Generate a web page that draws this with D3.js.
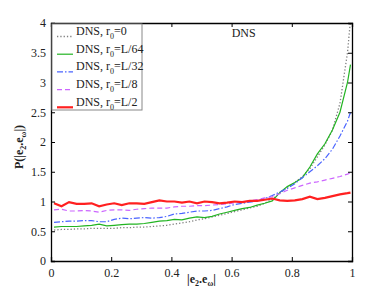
<!DOCTYPE html>
<html>
<head>
<meta charset="utf-8">
<script src="https://cdn.jsdelivr.net/npm/d3@7"></script>
<style>
body{margin:0;background:#fff;}
svg text{font-family:"Liberation Serif","Times New Roman",serif;}
</style>
</head>
<body>
<script>
// data
const xs=[0.01,0.035,0.06,0.085,0.11,0.135,0.16,0.185,0.21,0.235,0.26,0.285,0.31,0.335,0.36,0.385,0.41,0.435,0.46,0.485,0.51,0.535,0.56,0.585,0.61,0.635,0.66,0.685,0.71,0.735,0.76,0.785,0.81,0.835,0.86,0.885,0.91,0.935,0.96,0.985,0.995];
const r0_0=[0.52,0.53,0.53,0.54,0.54,0.55,0.55,0.55,0.55,0.56,0.56,0.57,0.57,0.58,0.59,0.6,0.62,0.64,0.66,0.69,0.71,0.74,0.77,0.8,0.83,0.86,0.89,0.92,0.97,1.04,1.14,1.24,1.32,1.42,1.55,1.75,1.95,2.2,2.65,3.5,4.05];
const r0_L64=[0.57,0.58,0.58,0.58,0.59,0.6,0.62,0.59,0.6,0.61,0.62,0.62,0.63,0.65,0.67,0.68,0.7,0.69,0.72,0.74,0.73,0.75,0.79,0.82,0.85,0.88,0.9,0.94,0.97,1.01,1.15,1.25,1.32,1.4,1.58,1.8,1.97,2.2,2.5,3.0,3.3];
const r0_L32=[0.65,0.66,0.67,0.67,0.68,0.68,0.66,0.66,0.7,0.72,0.71,0.72,0.73,0.72,0.73,0.75,0.79,0.8,0.82,0.84,0.84,0.85,0.88,0.91,0.95,0.97,0.99,1.01,1.05,1.1,1.16,1.22,1.3,1.4,1.5,1.6,1.72,1.88,2.1,2.35,2.5];
const r0_L8=[0.86,0.87,0.84,0.84,0.85,0.84,0.82,0.85,0.86,0.86,0.85,0.87,0.88,0.89,0.89,0.89,0.91,0.92,0.92,0.93,0.93,0.94,0.95,0.96,0.98,0.99,1.01,1.03,1.06,1.08,1.13,1.19,1.23,1.27,1.31,1.33,1.36,1.39,1.42,1.46,1.48];
const r0_L2=[0.97,0.92,0.99,0.96,0.96,0.97,0.92,0.95,0.97,0.94,0.97,0.97,0.96,0.99,1.02,1.0,1.0,0.98,1.0,0.97,1.0,0.99,0.97,0.98,1.0,0.99,1.01,1.01,1.03,1.05,1.02,1.01,1.02,1.04,1.08,1.04,1.06,1.09,1.12,1.14,1.15];
const labels=["0","L/64","L/32","L/8","L/2"];
const xTicks=[0,0.2,0.4,0.6,0.8,1];
const yTicks=[0,0.5,1,1.5,2,2.5,3,3.5,4];

const w=390,h=294;
const m={l:51,r:38,t:23,b:33};

const svg=d3.select("body").append("svg")
    .attr("width",w).attr("height",h);

const x=d3.scaleLinear().domain([0,1]).range([m.l,w-m.r]);
const y=d3.scaleLinear().domain([0,4]).range([h-m.b,m.t]);

svg.append("clipPath").attr("id","clip")
  .append("rect").attr("x",m.l).attr("y",m.t).attr("width",w-m.l-m.r).attr("height",h-m.t-m.b);

const series=[
  {v:r0_0,c:"#808080",wd:1.3,dash:"1.3,2"},
  {v:r0_L64,c:"#22b422",wd:1.2,dash:null},
  {v:r0_L32,c:"#4a64ff",wd:1.2,dash:"6,2,1.5,2"},
  {v:r0_L8,c:"#cc66ff",wd:1.2,dash:"5,3"},
  {v:r0_L2,c:"#ff2020",wd:2.2,dash:null}
];

const line=d3.line().x((d,i)=>x(xs[i])).y(d=>y(d));

const g=svg.append("g").attr("clip-path","url(#clip)");
series.forEach(s=>{
  g.append("path").datum(s.v)
    .attr("d",line)
    .attr("fill","none")
    .attr("stroke",s.c)
    .attr("stroke-width",s.wd)
    .attr("stroke-dasharray",s.dash);
});

//axes, ticks inward on all sides
const tk=4;
const ax=svg.append("g").attr("transform","translate(0,"+(h-m.b)+")")
  .call(d3.axisBottom(x).tickValues(xTicks).tickSize(-tk).tickPadding(7).tickFormat(d3.format("")));
const ay=svg.append("g").attr("transform","translate("+m.l+",0)")
  .call(d3.axisLeft(y).tickValues(yTicks).tickSize(-tk).tickPadding(5).tickFormat(d3.format("")));
const at=svg.append("g").attr("transform","translate(0,"+m.t+")")
  .call(d3.axisTop(x).tickValues(xTicks).tickSize(-tk).tickFormat(""));
const ar=svg.append("g").attr("transform","translate("+(w-m.r)+",0)")
  .call(d3.axisRight(y).tickValues(yTicks).tickSize(-tk).tickFormat(""));
[ax,ay,at,ar].forEach(a=>{
  a.select(".domain").attr("stroke","#000").attr("stroke-width",1.3);
  a.selectAll(".tick line").attr("stroke","#000");
  a.selectAll("text").attr("font-size",12).attr("fill","#222")
   .style("font-family","'Liberation Serif',serif");
});

//title
svg.append("text").attr("x",x(0.64)).attr("y",37).attr("text-anchor","middle")
  .attr("font-size",12).attr("fill","#222").text("DNS");

//axis labels
const xl=svg.append("text").attr("x",x(0.5)).attr("y",283).attr("text-anchor","middle")
  .attr("font-size",12).attr("font-weight","bold").attr("fill","#222");
xl.append("tspan").text("|e");
xl.append("tspan").attr("font-size",8).attr("dy",3).text("2");
xl.append("tspan").attr("dy",-3).text(".e");
xl.append("tspan").attr("font-size",8).attr("dy",3).text("ω");
xl.append("tspan").attr("dy",-3).text("|");

const yl=svg.append("text").attr("transform","translate(23,147) rotate(-90)")
  .attr("text-anchor","middle").attr("font-size",12).attr("font-weight","bold").attr("fill","#222");
yl.append("tspan").text("P(|e");
yl.append("tspan").attr("font-size",8).attr("dy",3).text("2");
yl.append("tspan").attr("dy",-3).text(".e");
yl.append("tspan").attr("font-size",8).attr("dy",3).text("ω");
yl.append("tspan").attr("dy",-3).text("|)");

//legend
const leg=svg.append("g");
leg.append("rect").attr("x",52).attr("y",24).attr("width",90).attr("height",86)
  .attr("fill","#fff").attr("stroke","#888").attr("stroke-width",1);
series.forEach((s,i)=>{
  const yy=35+i*17.7;
  leg.append("line").attr("x1",57).attr("x2",73).attr("y1",yy+1.5).attr("y2",yy+1.5)
    .attr("stroke",s.c).attr("stroke-width",s.wd).attr("stroke-dasharray",s.dash);
  const t=leg.append("text").attr("x",76).attr("y",yy).attr("font-size",12).attr("fill","#222");
  t.append("tspan").text("DNS, r");
  t.append("tspan").attr("font-size",8).attr("dy",4).text("0");
  t.append("tspan").attr("dy",-4).text("="+labels[i]);
});
</script>
</body>
</html>
